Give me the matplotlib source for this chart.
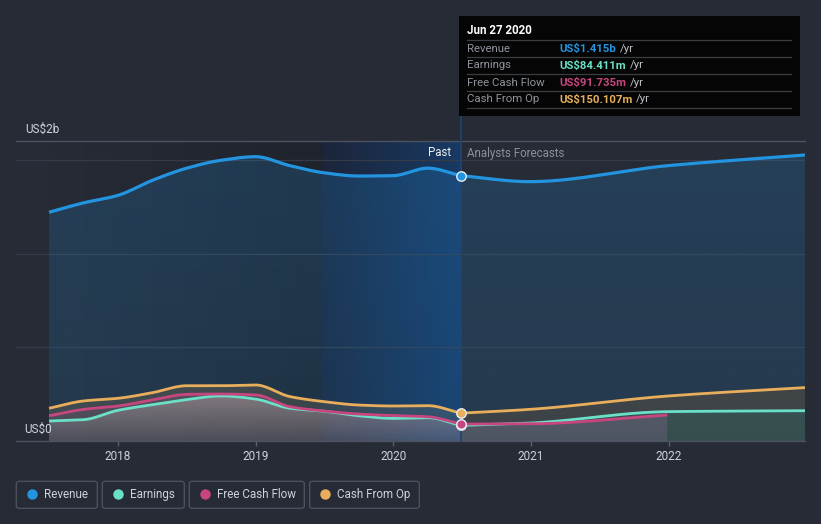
import numpy as np
import matplotlib
matplotlib.use("Agg")
import matplotlib.pyplot as plt
from matplotlib.patches import Polygon, FancyBboxPatch, Rectangle
from matplotlib.lines import Line2D

plt.rcParams['font.family'] = ['Roboto', 'DejaVu Sans']

# ---------------- data (US$ billions, decimal years) ----------------
past_t = [2017.50, 2017.75, 2018.00, 2018.25, 2018.50, 2018.75, 2019.00,
          2019.25, 2019.50, 2019.75, 2020.00, 2020.25, 2020.49]
rev_past = [1.220, 1.270, 1.310, 1.390, 1.455, 1.497, 1.516,
            1.468, 1.430, 1.413, 1.415, 1.455, 1.415]
earn_past = [0.108, 0.115, 0.165, 0.195, 0.222, 0.242, 0.225,
             0.176, 0.160, 0.136, 0.122, 0.126, 0.0844]
fcf_past = [0.136, 0.170, 0.188, 0.220, 0.250, 0.252, 0.247,
            0.184, 0.161, 0.145, 0.137, 0.131, 0.0917]
cfo_past = [0.176, 0.215, 0.229, 0.259, 0.296, 0.296, 0.300,
            0.238, 0.211, 0.193, 0.188, 0.190, 0.150]

fc_t = [2020.49, 2020.99, 2021.99, 2022.99]
rev_fc = [1.415, 1.383, 1.468, 1.525]
earn_fc = [0.0844, 0.097, 0.158, 0.163]
cfo_fc = [0.150, 0.170, 0.241, 0.286]
fcf_fc_t = [2020.49, 2020.99, 2021.99]
fcf_fc = [0.0917, 0.093, 0.140]

year_ticks = [2018, 2019, 2020, 2021, 2022]
series_names = ["Revenue", "Earnings", "Free Cash Flow", "Cash From Op"]
tooltip_date = "Jun 27 2020"
tooltip_vals = ["US$1.415b", "US$84.411m", "US$91.735m", "US$150.107m"]

# ---------------- style ----------------
BG = "#262b36"
C_REV = "#2394e0"
C_EARN = "#6be0c8"
C_FCF = "#c8467f"
C_CFO = "#e8ae5c"
TXT = "#cfd3da"

W, H = 821, 524
fig = plt.figure(figsize=(W / 100, H / 100), dpi=100, facecolor=BG)


def fx(px):
    return px / W


def fy(py):
    return 1 - py / H


X0, X1, YT, YB = 16, 805, 141.3, 441.3
ax = fig.add_axes([fx(X0), fy(YB), fx(X1) - fx(X0), fy(YT) - fy(YB)])
ax.set_facecolor(BG)
XMIN, XMAX, YMAX = 2017.26, 2022.99, 1.598


def monotone(x, y, n=200):
    x = np.asarray(x, float)
    y = np.asarray(y, float)
    h = np.diff(x)
    d = np.diff(y) / h
    m = np.zeros_like(y)
    m[0], m[-1] = d[0], d[-1]
    for i in range(1, len(y) - 1):
        if d[i - 1] * d[i] <= 0:
            m[i] = 0
        else:
            w1 = 2 * h[i] + h[i - 1]
            w2 = h[i] + 2 * h[i - 1]
            m[i] = (w1 + w2) / (w1 / d[i - 1] + w2 / d[i])
    xs = np.linspace(x[0], x[-1], n)
    idx = np.clip(np.searchsorted(x, xs) - 1, 0, len(x) - 2)
    t = (xs - x[idx]) / h[idx]
    h00 = 2 * t**3 - 3 * t**2 + 1
    h10 = t**3 - 2 * t**2 + t
    h01 = -2 * t**3 + 3 * t**2
    h11 = t**3 - t**2
    ys = h00 * y[idx] + h10 * h[idx] * m[idx] + h01 * y[idx + 1] + h11 * h[idx] * m[idx + 1]
    return xs, ys


def hex2rgb(c):
    c = c.lstrip('#')
    return [int(c[i:i + 2], 16) / 255 for i in (0, 2, 4)]


def grad_fill(xs, ys, rgb, a_top, a_bot, z):
    poly = Polygon(np.column_stack([np.r_[xs, xs[::-1]], np.r_[ys, np.zeros_like(ys)]]),
                   closed=True, facecolor='none', edgecolor='none')
    ax.add_patch(poly)
    g = np.zeros((100, 1, 4))
    g[:, 0, :3] = rgb
    g[:, 0, 3] = np.linspace(a_bot, a_top, 100)
    im = ax.imshow(g, extent=[xs.min(), xs.max(), 0, ys.max()], origin='lower',
                   aspect='auto', zorder=z, interpolation='bilinear')
    im.set_clip_path(poly)


def hgrad(x0, x1, c0, c1, z):
    g = np.zeros((1, 100, 3))
    for k in range(3):
        g[0, :, k] = np.linspace(c0[k], c1[k], 100) / 255
    ax.imshow(g, extent=[x0, x1, 0, YMAX], origin='lower', aspect='auto',
              zorder=z, interpolation='bilinear')


# background highlight bands
split = 2019.48
hgrad(past_t[0], split, (38, 43, 54), (31, 35, 44), 0.5)
hgrad(split, past_t[-1], (28, 37, 58), (24, 58, 100), 0.5)

# smooth curves
rp = monotone(past_t, rev_past)
rf = monotone(fc_t, rev_fc)
ep = monotone(past_t, earn_past)
ef = monotone(fc_t, earn_fc)
fp = monotone(past_t, fcf_past)
ff = monotone(fcf_fc_t, fcf_fc)
cp = monotone(past_t, cfo_past)
cf = monotone(fc_t, cfo_fc)

# revenue fill
for xs, ys in (rp, rf):
    grad_fill(xs, ys, hex2rgb(C_REV), 0.20, 0.14, 1)

# lower fills: past
grad_fill(*cp, (0.94, 0.75, 0.40), 0.16, 0.10, 2)
grad_fill(*fp, (0.86, 0.45, 0.62), 0.14, 0.08, 3)
grad_fill(*ep, (0.88, 0.82, 0.82), 0.32, 0.06, 4)
# lower fills: forecast
grad_fill(*cf, (0.70, 0.44, 0.16), 0.20, 0.16, 2)
grad_fill(*ef, (0.14, 0.52, 0.47), 0.22, 0.18, 3)
grad_fill(*ff, (0.42, 0.38, 0.48), 0.55, 0.45, 4)

# vertical marker line (from tooltip down to the baseline, behind the markers)
ax.plot([past_t[-1], past_t[-1]], [0, YMAX * 1.085], color='#1f4472', lw=1.2,
        zorder=5, clip_on=False)

# lines
for (xs, ys), c, lw in ((rp, C_REV, 2.3), (rf, C_REV, 2.3),
                        (cp, C_CFO, 2.0), (cf, C_CFO, 2.0),
                        (ep, C_EARN, 2.0), (ef, C_EARN, 2.0),
                        (fp, C_FCF, 2.0), (ff, C_FCF, 2.0)):
    ax.plot(xs, ys, color=c, lw=lw, zorder=6, solid_capstyle='butt')

# markers at the tooltip date
for val, c in ((rev_past[-1], C_REV), (cfo_past[-1], C_CFO),
               (earn_past[-1], C_EARN), (fcf_past[-1], C_FCF)):
    ax.plot([past_t[-1]], [val], 'o', ms=6.8, mfc=c, mec='#e8eef5', mew=1.0, zorder=8)

# grid & axes
for gy in (0.5, 1.0, 1.5):
    ax.axhline(gy, color='#353b47', lw=0.9, zorder=0.8)
ax.set_xlim(XMIN, XMAX)
ax.set_ylim(0, YMAX)
for s in ('left', 'right'):
    ax.spines[s].set_visible(False)
ax.spines['bottom'].set_color('#4c5260')
ax.spines['top'].set_color('#4c5260')
ax.spines['bottom'].set_linewidth(1.0)
ax.spines['top'].set_linewidth(1.0)
ax.set_yticks([])
ax.set_xticks(year_ticks)
ax.set_xticklabels([str(y) for y in year_ticks])
ax.tick_params(axis='x', colors='#5a6070', length=3.5, width=1, pad=3,
               labelcolor=TXT, labelsize=8.5)

# y labels
fig.text(fx(25), fy(129), "US$2b", color=TXT, fontsize=8.5, va='center', ha='left')
fig.text(fx(24), fy(429), "US$0", color=TXT, fontsize=8.5, va='center', ha='left')

# Past / forecast labels
fig.text(fx(451), fy(153), "Past", color='#eef0f3', fontsize=8.3, va='center', ha='right')
fig.text(fx(467), fy(153), "Analysts Forecasts", color='#8b909a', fontsize=8.3,
         va='center', ha='left')

# tooltip
fig.add_artist(Rectangle((fx(459), fy(116)), fx(800) - fx(459), fy(16) - fy(116),
                         facecolor='#050505', edgecolor='none', zorder=10))
fig.text(fx(467), fy(31), tooltip_date, color='white', fontsize=8.3,
         fontweight='bold', va='center', ha='left', zorder=11)
for ly in (40, 57, 74, 91, 108):
    fig.add_artist(Line2D([fx(467), fx(791)], [fy(ly), fy(ly)], color='#3a3d42',
                          lw=0.9, zorder=11))
val_cols = [C_REV, C_EARN, C_FCF, C_CFO]
val_texts = []
for i, (nm, v, c) in enumerate(zip(series_names, tooltip_vals, val_cols)):
    yy = 48.5 + 17 * i
    fig.text(fx(467), fy(yy), nm, color='#8f949c', fontsize=8.2, va='center',
             ha='left', zorder=11)
    t = fig.text(fx(559), fy(yy), v, color=c, fontsize=8.2, fontweight='bold',
                 va='center', ha='left', zorder=11)
    val_texts.append((t, yy))
fig.canvas.draw()
r = fig.canvas.get_renderer()
for t, yy in val_texts:
    bb = t.get_window_extent(renderer=r)
    fig.text(bb.x1 / W + fx(4), fy(yy), "/yr", color='#c0c4ca', fontsize=8.2,
             va='center', ha='left', zorder=11)

# legend
boxes = [(16.3, 97.3), (102.3, 184.3), (189.3, 304.3), (309.7, 419.3)]
dots = [32, 117.7, 205.3, 325]
txt_x = [44.3, 130, 217, 337]
leg_cols = [C_REV, C_EARN, C_FCF, C_CFO]
for (b0, b1), dx, tx, nm, c in zip(boxes, dots, txt_x, series_names, leg_cols):
    fig.add_artist(FancyBboxPatch((fx(b0), fy(508.3)), fx(b1) - fx(b0), fy(481.3) - fy(508.3),
                                  boxstyle="round,pad=0,rounding_size=0.004",
                                  facecolor='none', edgecolor='#4a505c', lw=1.0))
    fig.add_artist(Line2D([fx(dx)], [fy(494)], marker='o', ms=6.5, color=c, mec=c))
    fig.text(fx(tx), fy(494.5), nm, color=TXT, fontsize=8.4, va='center', ha='left')

fig.savefig("out.png", dpi=100, facecolor=BG)
